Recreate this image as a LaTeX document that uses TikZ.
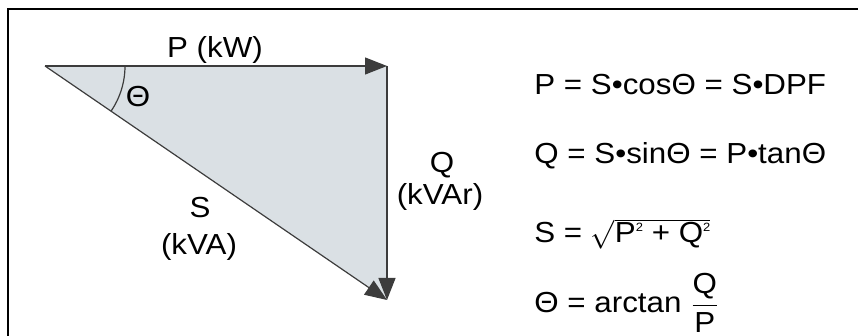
\documentclass[tikz,border=0pt]{standalone}
\usepackage{amsmath}
\usepackage{fontspec}
\setmainfont{Liberation Sans}[FakeStretch=1.08]
\definecolor{pwrshade}{RGB}{218,224,228}
\definecolor{pwrline}{RGB}{60,60,60}
\usetikzlibrary{arrows.meta}
\newcommand{\sqtwo}{\raisebox{0.75ex}{\fontsize{6}{6}\selectfont 2}}
\begin{document}
\begin{tikzpicture}[x=0.5pt,y=0.5pt,font=\fontsize{14.5}{16}\selectfont,
  phasor/.style={draw=pwrline,line width=0.6pt,-{Triangle[length=11pt,width=8.5pt]}},
  eqn/.style={anchor=base west,inner sep=0pt}]
  \useasboundingbox (0,0) rectangle (858,336);
  \draw[line width=1pt] (8,0) -- (8,327) -- (858,327);
  \coordinate (apex) at (45,270);
  \coordinate (kw) at (387,270);
  \coordinate (kva) at (387,36);
  \fill[pwrshade] (apex) -- (kw) -- (kva) -- cycle;
  \draw[phasor] (apex) -- (kw);
  \draw[phasor] (kw) -- (kva);
  \draw[phasor] (apex) -- (kva);
  \draw[pwrline,line width=0.6pt] (apex) ++(80,0) arc[start angle=0,end angle=-34.4,radius=40pt];
  \node (theta) at (138,239) {Θ};
  \node (plabel) at (215,286) {P (kW)};
  \node (slabel) at (200,128) {S};
  \node (sunit) at (199,89) {(kVA)};
  \node (qlabel) at (442,171) {Q};
  \node (qunit) at (440,139) {(kVAr)};
  \node[eqn] (eqp) at (534,241) {P = S•cosΘ = S•DPF};
  \node[eqn] (eqq) at (534,172) {Q = S•sinΘ = P•tanΘ};
  \node[eqn] (eqs) at (534,93) {S = $\sqrt{\text{P\sqtwo\ + Q\sqtwo}}$};
  \node[eqn] (eqt) at (534,23) {Θ = arctan $\dfrac{\text{Q}}{\text{P}}$};
\end{tikzpicture}
\end{document}
